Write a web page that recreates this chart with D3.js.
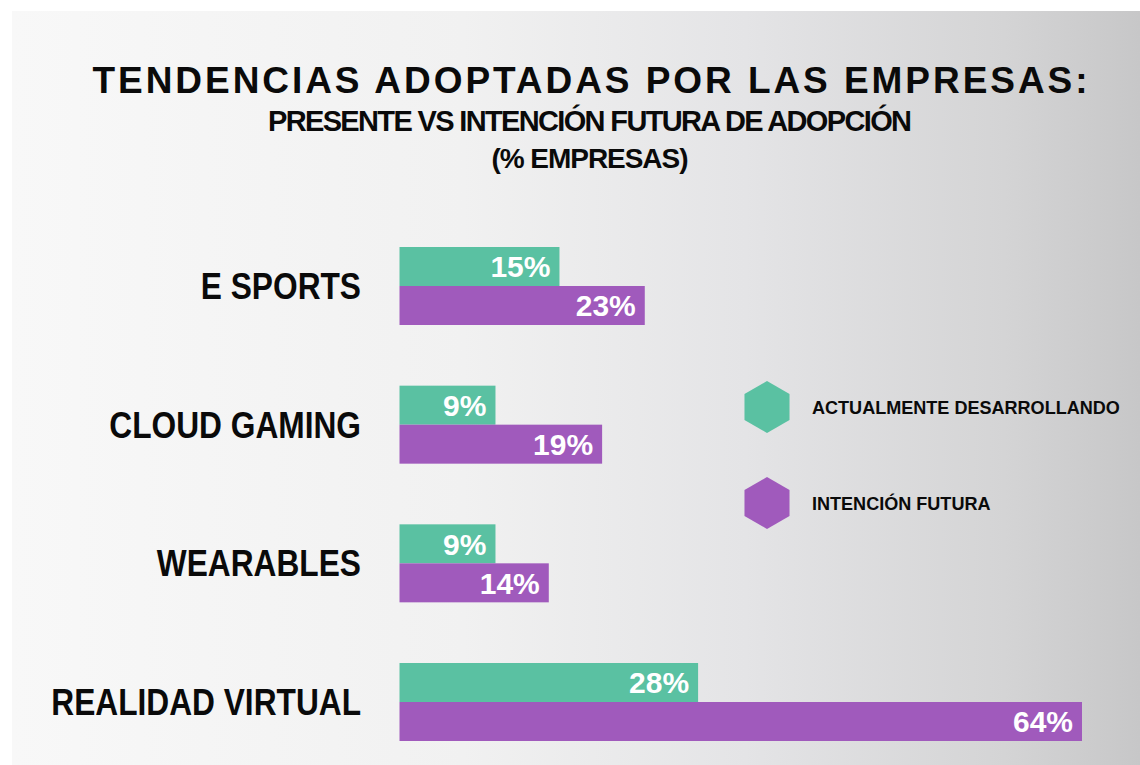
<!DOCTYPE html>
<html>
<head>
<meta charset="utf-8">
<script src="https://cdn.jsdelivr.net/npm/d3@7"></script>
<style>
  html, body { margin: 0; padding: 0; background: #fff; }
  #chart { width: 1140px; height: 765px; }
  text { font-family: "Liberation Sans", "DejaVu Sans", sans-serif; font-weight: bold; }
</style>
</head>
<body>
<div id="chart"></div>
<script>
// data
const categories = ["E SPORTS", "CLOUD GAMING", "WEARABLES", "REALIDAD VIRTUAL"];
const actual = [15, 9, 9, 28];
const futura = [23, 19, 14, 64];
const seriesNames = ["ACTUALMENTE DESARROLLANDO", "INTENCIÓN FUTURA"];
const titleLines = [
  "TENDENCIAS ADOPTADAS POR LAS EMPRESAS:",
  "PRESENTE VS INTENCIÓN FUTURA DE ADOPCIÓN",
  "(% EMPRESAS)"
];

const colors = ["#5ac1a2", "#a05abc"];
const width = 1140, height = 765;

const svg = d3.select("#chart").append("svg")
  .attr("width", width)
  .attr("height", height);

// squeeze/stretch text horizontally, the original font is a boxy one
function fitWidth(sel, factor) {
  sel.each(function () {
    const w = this.getComputedTextLength();
    d3.select(this)
      .attr("textLength", w * factor)
      .attr("lengthAdjust", "spacingAndGlyphs");
  });
}

// background panel with grey gradient
const grad = svg.append("defs").append("linearGradient")
  .attr("id", "bg")
  .attr("x1", "0%").attr("x2", "100%").attr("y1", "0%").attr("y2", "0%");
[[0, "#f8f8f8"], [0.4, "#f1f1f1"], [0.65, "#e4e4e6"], [0.88, "#d4d4d5"], [1, "#c7c7c8"]]
  .forEach(([o, c]) => grad.append("stop").attr("offset", o).attr("stop-color", c));

svg.append("rect")
  .attr("x", 12).attr("y", 11)
  .attr("width", width - 12).attr("height", height - 11)
  .attr("fill", "url(#bg)");

// titles
const titleSpecs = [
  { y: 93, size: 37, len: 995 },
  { y: 131, size: 29, len: 644 },
  { y: 168, size: 28, len: 197 }
];
titleLines.forEach((t, i) => {
  svg.append("text")
    .attr("x", 590)
    .attr("y", titleSpecs[i].y)
    .attr("text-anchor", "middle")
    .attr("font-size", titleSpecs[i].size)
    .attr("textLength", titleSpecs[i].len)
    .attr("lengthAdjust", "spacing")
    .attr("fill", "#0a0a0a")
    .text(t);
});

// scales
const x = d3.scaleLinear()
  .domain([0, 64])
  .range([399.5, 1082]);

const y = d3.scaleBand()
  .domain(categories)
  .range([247, 741])
  .paddingInner(0.4375);

const y1 = d3.scaleBand()
  .domain([0, 1])
  .range([0, y.bandwidth()]);

const rows = categories.map((c, i) => ({ cat: c, vals: [actual[i], futura[i]] }));

const groups = svg.selectAll("g.row")
  .data(rows)
  .join("g")
  .attr("class", "row")
  .attr("transform", d => `translate(0,${y(d.cat)})`);

// category labels
groups.append("text")
  .attr("x", 361)
  .attr("y", y.bandwidth() / 2)
  .attr("dy", "0.36em")
  .attr("text-anchor", "end")
  .attr("font-size", 36)
  .attr("fill", "#0a0a0a")
  .text(d => d.cat)
  .call(fitWidth, 0.88);

// bars
const bars = groups.selectAll("g.bar")
  .data(d => d.vals.map((v, k) => ({ v, k })))
  .join("g")
  .attr("class", "bar");

bars.append("rect")
  .attr("x", x(0))
  .attr("y", d => y1(d.k))
  .attr("width", d => x(d.v) - x(0))
  .attr("height", y1.bandwidth())
  .attr("fill", d => colors[d.k]);

bars.append("text")
  .attr("x", d => x(d.v) - 9)
  .attr("y", d => y1(d.k) + y1.bandwidth() / 2)
  .attr("dy", "0.36em")
  .attr("text-anchor", "end")
  .attr("font-size", 30)
  .attr("fill", "#fff")
  .text(d => d.v + "%");

// legend with hexagons
const hex = r => d3.range(6).map(i => {
  const a = Math.PI / 3 * i - Math.PI / 2;
  return [r * Math.cos(a), r * Math.sin(a)];
});

const legend = svg.selectAll("g.legend")
  .data(seriesNames)
  .join("g")
  .attr("class", "legend")
  .attr("transform", (d, i) => `translate(767,${407 + i * 96})`);

legend.append("path")
  .attr("d", d3.line()(hex(26)) + "Z")
  .attr("fill", (d, i) => colors[i]);

legend.append("text")
  .attr("x", 45)
  .attr("dy", "0.36em")
  .attr("font-size", 19)
  .attr("fill", "#0a0a0a")
  .text(d => d)
  .call(fitWidth, 0.95);
</script>
</body>
</html>
